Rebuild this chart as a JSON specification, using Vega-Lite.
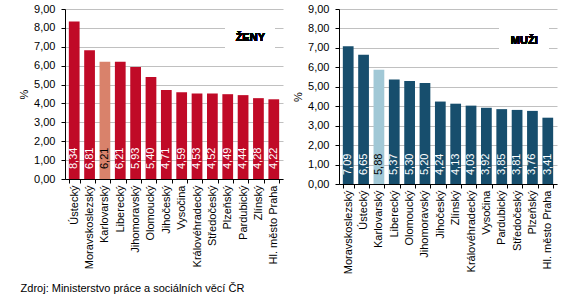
{
  "$schema": "https://vega.github.io/schema/vega-lite/v6.json",
  "padding": {"left": 18, "top": 3, "right": 5, "bottom": 5},
  "spacing": 9,
  "config": {
    "locale": {"number": {"decimal": ",", "thousands": "\u00a0", "grouping": [3], "currency": ["", " Kč"]}},
    "view": {"stroke": null},
    "font": "Liberation Sans",
    "axis": {
      "labelFont": "Liberation Sans", "labelFontSize": 11, "labelColor": "#000",
      "titleFont": "Liberation Sans", "titleFontSize": 11, "titleFontWeight": "normal", "titleColor": "#000",
      "domainColor": "#000", "tickColor": "#000", "gridColor": "#c0c0c0", "tickSize": 4, "labelOverlap": false
    },
    "axisY": {"labelPadding": 6, "titlePadding": 4},
    "axisX": {"labelPadding": 2, "grid": false}
  },
  "title": {"text": "Zdroj: Ministerstvo práce a sociálních věcí ČR", "orient": "bottom", "anchor": "start", "fontSize": 11, "fontWeight": "normal", "font": "Liberation Sans", "color": "#000", "offset": 9, "dx": 2},
  "hconcat": [
    {
      "width": 218, "height": 170,
      "data": {"values": [
        {"region": "Ústecký", "value": 8.34},
        {"region": "Moravskoslezský", "value": 6.81},
        {"region": "Karlovarský", "value": 6.21},
        {"region": "Liberecký", "value": 6.21},
        {"region": "Jihomoravský", "value": 5.93},
        {"region": "Olomoucký", "value": 5.40},
        {"region": "Jihočeský", "value": 4.71},
        {"region": "Vysočina", "value": 4.59},
        {"region": "Královéhradecký", "value": 4.53},
        {"region": "Středočeský", "value": 4.52},
        {"region": "Plzeňský", "value": 4.49},
        {"region": "Pardubický", "value": 4.44},
        {"region": "Zlínský", "value": 4.28},
        {"region": "Hl. město Praha", "value": 4.22}
      ]},
      "layer": [
        {"layer": [
          {"mark": {"type": "bar"},
           "encoding": {
             "x": {"field": "region", "type": "nominal", "sort": null, "scale": {"paddingInner": 0.3, "paddingOuter": 0.25}, "axis": {"title": null, "labelAngle": -90, "tickBand": "extent"}},
             "y": {"field": "value", "type": "quantitative", "scale": {"domain": [0, 9], "nice": false}, "axis": {"title": "%", "format": ".2f", "tickCount": 9}},
             "color": {"condition": {"test": "datum.region === 'Karlovarský'", "value": "#D9826B"}, "value": "#C00A27"}
           }},
          {"mark": {"type": "text", "angle": -90, "align": "left", "baseline": "middle", "dx": 10, "fontSize": 11, "font": "Liberation Sans"},
           "encoding": {
             "x": {"field": "region", "type": "nominal", "sort": null},
             "y": {"datum": 0, "type": "quantitative", "axis": {"title": "%", "format": ".2f", "tickCount": 9}},
             "text": {"field": "value", "type": "quantitative", "format": ".2f"},
             "color": {"condition": {"test": "datum.region === 'Karlovarský'", "value": "#000000"}, "value": "#ffffff"}
           }}
        ]},
        {"layer": [
          {"mark": {"type": "rect", "color": "#ffffff"},
           "encoding": {
             "x": {"datum": 0.734, "type": "quantitative", "scale": {"domain": [0, 1], "nice": false, "zero": false}, "axis": null},
             "x2": {"datum": 0.963},
             "y": {"datum": 6.55, "type": "quantitative", "axis": {"title": "%", "format": ".2f", "tickCount": 9}},
             "y2": {"datum": 8.45}
           }},
          {"mark": {"type": "text", "text": "ŽENY", "fontWeight": "bold", "fontSize": 11, "font": "Liberation Sans", "color": "#000", "align": "center", "baseline": "middle"},
           "encoding": {
             "x": {"datum": 0.85, "type": "quantitative"},
             "y": {"datum": 7.48, "type": "quantitative", "axis": {"title": "%", "format": ".2f", "tickCount": 9}}
           }}
        ]}
      ],
      "resolve": {"scale": {"x": "independent"}}
    },
    {
      "width": 218, "height": 175,
      "data": {"values": [
        {"region": "Moravskoslezský", "value": 7.09},
        {"region": "Ústecký", "value": 6.65},
        {"region": "Karlovarský", "value": 5.88},
        {"region": "Liberecký", "value": 5.37},
        {"region": "Olomoucký", "value": 5.30},
        {"region": "Jihomoravský", "value": 5.20},
        {"region": "Jihočeský", "value": 4.24},
        {"region": "Zlínský", "value": 4.13},
        {"region": "Královéhradecký", "value": 4.03},
        {"region": "Vysočina", "value": 3.92},
        {"region": "Pardubický", "value": 3.85},
        {"region": "Středočeský", "value": 3.81},
        {"region": "Plzeňský", "value": 3.76},
        {"region": "Hl. město Praha", "value": 3.41}
      ]},
      "layer": [
        {"layer": [
          {"mark": {"type": "bar"},
           "encoding": {
             "x": {"field": "region", "type": "nominal", "sort": null, "scale": {"paddingInner": 0.3, "paddingOuter": 0.25}, "axis": {"title": null, "labelAngle": -90, "tickBand": "extent"}},
             "y": {"field": "value", "type": "quantitative", "scale": {"domain": [0, 9], "nice": false}, "axis": {"title": "%", "format": ".2f", "tickCount": 9}},
             "color": {"condition": {"test": "datum.region === 'Karlovarský'", "value": "#A1C8D6"}, "value": "#174E6D"}
           }},
          {"mark": {"type": "text", "angle": -90, "align": "left", "baseline": "middle", "dx": 9, "fontSize": 11, "font": "Liberation Sans"},
           "encoding": {
             "x": {"field": "region", "type": "nominal", "sort": null},
             "y": {"datum": 0, "type": "quantitative", "axis": {"title": "%", "format": ".2f", "tickCount": 9}},
             "text": {"field": "value", "type": "quantitative", "format": ".2f"},
             "color": {"condition": {"test": "datum.region === 'Karlovarský'", "value": "#000000"}, "value": "#ffffff"}
           }}
        ]},
        {"layer": [
          {"mark": {"type": "rect", "color": "#ffffff"},
           "encoding": {
             "x": {"datum": 0.734, "type": "quantitative", "scale": {"domain": [0, 1], "nice": false, "zero": false}, "axis": null},
             "x2": {"datum": 0.963},
             "y": {"datum": 6.4, "type": "quantitative", "axis": {"title": "%", "format": ".2f", "tickCount": 9}},
             "y2": {"datum": 8.3}
           }},
          {"mark": {"type": "text", "text": "MUŽI", "fontWeight": "bold", "fontSize": 11, "font": "Liberation Sans", "color": "#000", "align": "center", "baseline": "middle"},
           "encoding": {
             "x": {"datum": 0.85, "type": "quantitative"},
             "y": {"datum": 7.36, "type": "quantitative", "axis": {"title": "%", "format": ".2f", "tickCount": 9}}
           }}
        ]}
      ],
      "resolve": {"scale": {"x": "independent"}}
    }
  ]
}
